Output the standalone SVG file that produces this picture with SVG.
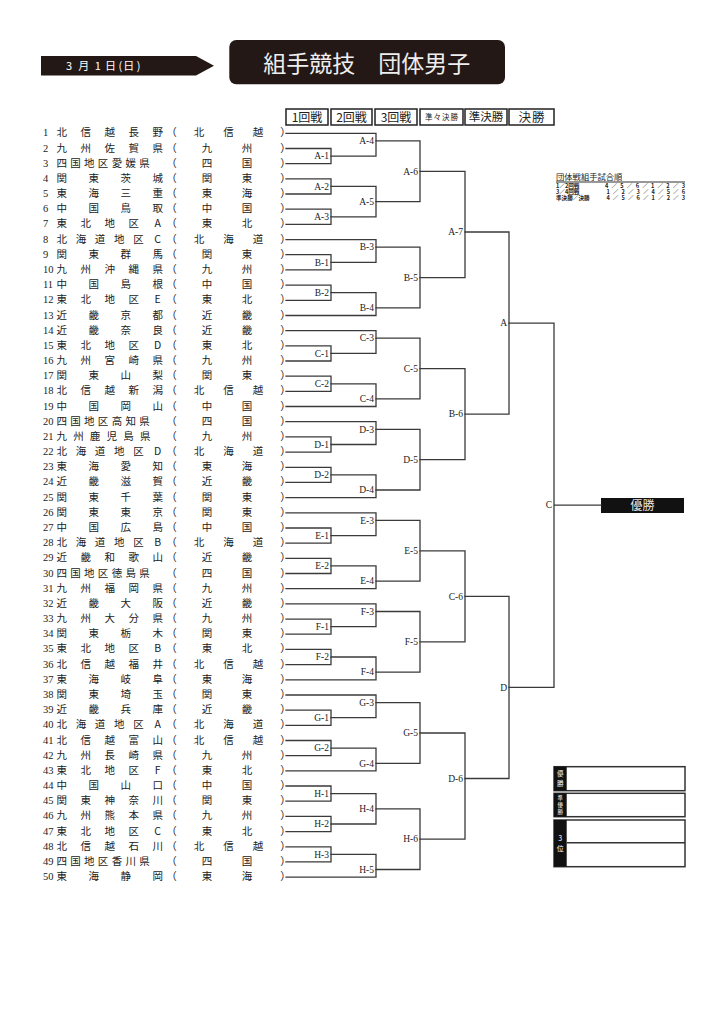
<svg xmlns="http://www.w3.org/2000/svg" width="724" height="1024" viewBox="0 0 724 1024">
<style>
.j{font-family:"Noto Sans CJK JP",sans-serif;font-size:10.5px;fill:#222;text-anchor:middle}
.n{font-family:"Liberation Serif",serif;font-size:10.5px;fill:#222}
.lb{font-family:"Liberation Serif",serif;font-size:9.5px;fill:#222;text-anchor:end}
.ln{fill:none;stroke:#3a3a3a;stroke-width:1.3;stroke-linecap:square}
.rb{fill:#fff;stroke:#222;stroke-width:1.5}
.rt{font-family:"Noto Sans CJK JP",sans-serif;fill:#222;text-anchor:middle}
.wt{font-family:"Noto Sans CJK JP",sans-serif;fill:#fff;text-anchor:middle}
.tb{font-family:"Noto Sans CJK JP",sans-serif;fill:#222;font-weight:700}
.sb{fill:#fff;stroke:#333;stroke-width:1.5}
</style>
<rect width="724" height="1024" fill="#fff"/>

<g id="date">
<polygon points="41,56 196,56 214,65.8 196,75.5 41,75.5" fill="#231815"/>
<text class="wt" style="font-size:11px" x="69 83.8 97.7 110.4 120.3 128.7 138.5" y="70">3月1日(日)</text>
</g>
<g id="title">
<rect x="229.3" y="40" width="275.7" height="44.3" rx="7" fill="#231815"/>
<text class="wt" style="font-size:23px;fill:#eee" x="366.7" y="71.5">組手競技　団体男子</text>
</g>

<g id="rounds">
<rect class="rb" x="286" y="109" width="42" height="16"/>
<text class="rt" style="font-size:12px" x="307" y="121.5">1回戦</text>
<rect class="rb" x="331" y="109" width="41" height="16"/>
<text class="rt" style="font-size:12px" x="351.5" y="121.5">2回戦</text>
<rect class="rb" x="375" y="109" width="42" height="16"/>
<text class="rt" style="font-size:12px" x="396" y="121.5">3回戦</text>
<rect class="rb" x="420" y="109" width="43" height="16"/>
<text class="rt" style="font-size:7.5px;letter-spacing:1px" x="442" y="120">準々決勝</text>
<rect class="rb" x="465" y="109" width="42" height="16"/>
<text class="rt" style="font-size:11.5px" x="486" y="121.3">準決勝</text>
<rect class="rb" x="509" y="109" width="45" height="16"/>
<text class="rt" style="font-size:12.5px;letter-spacing:1px" x="532" y="121.7">決勝</text>
</g>

<g id="order-table">
<text class="tb" style="font-size:8.3px;font-weight:400" x="556" y="180">団体戦組手試合順</text>
<line x1="556" y1="182" x2="685" y2="182" stroke="#333" stroke-width="1.2"/>
<text class="tb" style="font-size:5.6px"><tspan x="556" y="188">1／2回戦</tspan><tspan x="605" y="188" textLength="80" lengthAdjust="spacing">4／5／6／1／2／3</tspan><tspan x="556" y="194.2">3／4回戦</tspan><tspan x="606.5" y="194.2" textLength="78.5" lengthAdjust="spacing">1／2／3／4／5／6</tspan><tspan x="556" y="200.4">準決勝／決勝</tspan><tspan x="606.5" y="200.4" textLength="78.5" lengthAdjust="spacing">4／5／6／1／2／3</tspan></text>
</g>

<g id="champion">
<rect x="601" y="498" width="83" height="15" fill="#111"/>
<text class="wt" style="font-size:12px;fill:#e8e8e8" x="642.5" y="510">優勝</text>
</g>

<g id="standings">
<rect class="sb" x="554" y="766.7" width="131" height="24"/>
<rect x="554" y="766.7" width="12.7" height="24" fill="#111"/>
<text class="wt" style="font-size:6.5px" x="560.3 560.3" y="776 785.5">優勝</text>
<rect class="sb" x="554" y="793.3" width="131" height="23.4"/>
<rect x="554" y="793.3" width="12.7" height="23.4" fill="#111"/>
<text class="wt" style="font-size:5.5px" x="560.3 560.3 560.3" y="800.3 807 813.7">準優勝</text>
<rect class="sb" x="554" y="820" width="131" height="46.7"/>
<rect x="554" y="820" width="12.7" height="46.7" fill="#111"/>
<line x1="566.7" y1="842.7" x2="685" y2="842.7" stroke="#333" stroke-width="1.5"/>
<text class="wt" style="font-size:7px" x="560.3 560.3" y="840.5 851">3位</text>
</g>

<g id="teams">
<g id="t01"><text class="n" x="43" y="136.3">1</text><text class="j" x="61.7 85.7 109.7 133.7 157.7 171.5" y="136.3">北信越長野（</text><text class="j" x="199 228.5 258 285.5" y="136.3">北信越）</text></g>
<g id="t02"><text class="n" x="43" y="151.5">2</text><text class="j" x="61.7 85.7 109.7 133.7 157.7 171.5" y="151.5">九州佐賀県（</text><text class="j" x="207 247 285.5" y="151.5">九州）</text></g>
<g id="t03"><text class="n" x="43" y="166.7">3</text><text class="j" x="61.7 75.5 89.3 103.1 116.9 130.7 144.5 171.5" y="166.7">四国地区愛媛県（</text><text class="j" x="207 247 285.5" y="166.7">四国）</text></g>
<g id="t04"><text class="n" x="43" y="181.8">4</text><text class="j" x="61.7 93.7 125.7 157.7 171.5" y="181.8">関東茨城（</text><text class="j" x="207 247 285.5" y="181.8">関東）</text></g>
<g id="t05"><text class="n" x="43" y="197">5</text><text class="j" x="61.7 93.7 125.7 157.7 171.5" y="197">東海三重（</text><text class="j" x="207 247 285.5" y="197">東海）</text></g>
<g id="t06"><text class="n" x="43" y="212.2">6</text><text class="j" x="61.7 93.7 125.7 157.7 171.5" y="212.2">中国鳥取（</text><text class="j" x="207 247 285.5" y="212.2">中国）</text></g>
<g id="t07"><text class="n" x="43" y="227.4">7</text><text class="j" x="61.7 85.7 109.7 133.7 157.7 171.5" y="227.4">東北地区A（</text><text class="j" x="207 247 285.5" y="227.4">東北）</text></g>
<g id="t08"><text class="n" x="43" y="242.6">8</text><text class="j" x="61.7 80.9 100.1 119.3 138.5 157.7 171.5" y="242.6">北海道地区C（</text><text class="j" x="199 228.5 258 285.5" y="242.6">北海道）</text></g>
<g id="t09"><text class="n" x="43" y="257.7">9</text><text class="j" x="61.7 93.7 125.7 157.7 171.5" y="257.7">関東群馬（</text><text class="j" x="207 247 285.5" y="257.7">関東）</text></g>
<g id="t10"><text class="n" x="43" y="272.9">10</text><text class="j" x="61.7 85.7 109.7 133.7 157.7 171.5" y="272.9">九州沖縄県（</text><text class="j" x="207 247 285.5" y="272.9">九州）</text></g>
<g id="t11"><text class="n" x="43" y="288.1">11</text><text class="j" x="61.7 93.7 125.7 157.7 171.5" y="288.1">中国島根（</text><text class="j" x="207 247 285.5" y="288.1">中国）</text></g>
<g id="t12"><text class="n" x="43" y="303.3">12</text><text class="j" x="61.7 85.7 109.7 133.7 157.7 171.5" y="303.3">東北地区E（</text><text class="j" x="207 247 285.5" y="303.3">東北）</text></g>
<g id="t13"><text class="n" x="43" y="318.5">13</text><text class="j" x="61.7 93.7 125.7 157.7 171.5" y="318.5">近畿京都（</text><text class="j" x="207 247 285.5" y="318.5">近畿）</text></g>
<g id="t14"><text class="n" x="43" y="333.6">14</text><text class="j" x="61.7 93.7 125.7 157.7 171.5" y="333.6">近畿奈良（</text><text class="j" x="207 247 285.5" y="333.6">近畿）</text></g>
<g id="t15"><text class="n" x="43" y="348.8">15</text><text class="j" x="61.7 85.7 109.7 133.7 157.7 171.5" y="348.8">東北地区D（</text><text class="j" x="207 247 285.5" y="348.8">東北）</text></g>
<g id="t16"><text class="n" x="43" y="364">16</text><text class="j" x="61.7 85.7 109.7 133.7 157.7 171.5" y="364">九州宮崎県（</text><text class="j" x="207 247 285.5" y="364">九州）</text></g>
<g id="t17"><text class="n" x="43" y="379.2">17</text><text class="j" x="61.7 93.7 125.7 157.7 171.5" y="379.2">関東山梨（</text><text class="j" x="207 247 285.5" y="379.2">関東）</text></g>
<g id="t18"><text class="n" x="43" y="394.4">18</text><text class="j" x="61.7 85.7 109.7 133.7 157.7 171.5" y="394.4">北信越新潟（</text><text class="j" x="199 228.5 258 285.5" y="394.4">北信越）</text></g>
<g id="t19"><text class="n" x="43" y="409.5">19</text><text class="j" x="61.7 93.7 125.7 157.7 171.5" y="409.5">中国岡山（</text><text class="j" x="207 247 285.5" y="409.5">中国）</text></g>
<g id="t20"><text class="n" x="43" y="424.7">20</text><text class="j" x="61.7 75.5 89.3 103.1 116.9 130.7 144.5 171.5" y="424.7">四国地区高知県（</text><text class="j" x="207 247 285.5" y="424.7">四国）</text></g>
<g id="t21"><text class="n" x="43" y="439.9">21</text><text class="j" x="61.7 78.4 95.1 111.8 128.5 145.2 171.5" y="439.9">九州鹿児島県（</text><text class="j" x="207 247 285.5" y="439.9">九州）</text></g>
<g id="t22"><text class="n" x="43" y="455.1">22</text><text class="j" x="61.7 80.9 100.1 119.3 138.5 157.7 171.5" y="455.1">北海道地区D（</text><text class="j" x="199 228.5 258 285.5" y="455.1">北海道）</text></g>
<g id="t23"><text class="n" x="43" y="470.3">23</text><text class="j" x="61.7 93.7 125.7 157.7 171.5" y="470.3">東海愛知（</text><text class="j" x="207 247 285.5" y="470.3">東海）</text></g>
<g id="t24"><text class="n" x="43" y="485.4">24</text><text class="j" x="61.7 93.7 125.7 157.7 171.5" y="485.4">近畿滋賀（</text><text class="j" x="207 247 285.5" y="485.4">近畿）</text></g>
<g id="t25"><text class="n" x="43" y="500.6">25</text><text class="j" x="61.7 93.7 125.7 157.7 171.5" y="500.6">関東千葉（</text><text class="j" x="207 247 285.5" y="500.6">関東）</text></g>
<g id="t26"><text class="n" x="43" y="515.8">26</text><text class="j" x="61.7 93.7 125.7 157.7 171.5" y="515.8">関東東京（</text><text class="j" x="207 247 285.5" y="515.8">関東）</text></g>
<g id="t27"><text class="n" x="43" y="531">27</text><text class="j" x="61.7 93.7 125.7 157.7 171.5" y="531">中国広島（</text><text class="j" x="207 247 285.5" y="531">中国）</text></g>
<g id="t28"><text class="n" x="43" y="546.2">28</text><text class="j" x="61.7 80.9 100.1 119.3 138.5 157.7 171.5" y="546.2">北海道地区B（</text><text class="j" x="199 228.5 258 285.5" y="546.2">北海道）</text></g>
<g id="t29"><text class="n" x="43" y="561.3">29</text><text class="j" x="61.7 85.7 109.7 133.7 157.7 171.5" y="561.3">近畿和歌山（</text><text class="j" x="207 247 285.5" y="561.3">近畿）</text></g>
<g id="t30"><text class="n" x="43" y="576.5">30</text><text class="j" x="61.7 75.5 89.3 103.1 116.9 130.7 144.5 171.5" y="576.5">四国地区徳島県（</text><text class="j" x="207 247 285.5" y="576.5">四国）</text></g>
<g id="t31"><text class="n" x="43" y="591.7">31</text><text class="j" x="61.7 85.7 109.7 133.7 157.7 171.5" y="591.7">九州福岡県（</text><text class="j" x="207 247 285.5" y="591.7">九州）</text></g>
<g id="t32"><text class="n" x="43" y="606.9">32</text><text class="j" x="61.7 93.7 125.7 157.7 171.5" y="606.9">近畿大阪（</text><text class="j" x="207 247 285.5" y="606.9">近畿）</text></g>
<g id="t33"><text class="n" x="43" y="622.1">33</text><text class="j" x="61.7 85.7 109.7 133.7 157.7 171.5" y="622.1">九州大分県（</text><text class="j" x="207 247 285.5" y="622.1">九州）</text></g>
<g id="t34"><text class="n" x="43" y="637.2">34</text><text class="j" x="61.7 93.7 125.7 157.7 171.5" y="637.2">関東栃木（</text><text class="j" x="207 247 285.5" y="637.2">関東）</text></g>
<g id="t35"><text class="n" x="43" y="652.4">35</text><text class="j" x="61.7 85.7 109.7 133.7 157.7 171.5" y="652.4">東北地区B（</text><text class="j" x="207 247 285.5" y="652.4">東北）</text></g>
<g id="t36"><text class="n" x="43" y="667.6">36</text><text class="j" x="61.7 85.7 109.7 133.7 157.7 171.5" y="667.6">北信越福井（</text><text class="j" x="199 228.5 258 285.5" y="667.6">北信越）</text></g>
<g id="t37"><text class="n" x="43" y="682.8">37</text><text class="j" x="61.7 93.7 125.7 157.7 171.5" y="682.8">東海岐阜（</text><text class="j" x="207 247 285.5" y="682.8">東海）</text></g>
<g id="t38"><text class="n" x="43" y="698">38</text><text class="j" x="61.7 93.7 125.7 157.7 171.5" y="698">関東埼玉（</text><text class="j" x="207 247 285.5" y="698">関東）</text></g>
<g id="t39"><text class="n" x="43" y="713.1">39</text><text class="j" x="61.7 93.7 125.7 157.7 171.5" y="713.1">近畿兵庫（</text><text class="j" x="207 247 285.5" y="713.1">近畿）</text></g>
<g id="t40"><text class="n" x="43" y="728.3">40</text><text class="j" x="61.7 80.9 100.1 119.3 138.5 157.7 171.5" y="728.3">北海道地区A（</text><text class="j" x="199 228.5 258 285.5" y="728.3">北海道）</text></g>
<g id="t41"><text class="n" x="43" y="743.5">41</text><text class="j" x="61.7 85.7 109.7 133.7 157.7 171.5" y="743.5">北信越富山（</text><text class="j" x="199 228.5 258 285.5" y="743.5">北信越）</text></g>
<g id="t42"><text class="n" x="43" y="758.7">42</text><text class="j" x="61.7 85.7 109.7 133.7 157.7 171.5" y="758.7">九州長崎県（</text><text class="j" x="207 247 285.5" y="758.7">九州）</text></g>
<g id="t43"><text class="n" x="43" y="773.9">43</text><text class="j" x="61.7 85.7 109.7 133.7 157.7 171.5" y="773.9">東北地区F（</text><text class="j" x="207 247 285.5" y="773.9">東北）</text></g>
<g id="t44"><text class="n" x="43" y="789">44</text><text class="j" x="61.7 93.7 125.7 157.7 171.5" y="789">中国山口（</text><text class="j" x="207 247 285.5" y="789">中国）</text></g>
<g id="t45"><text class="n" x="43" y="804.2">45</text><text class="j" x="61.7 85.7 109.7 133.7 157.7 171.5" y="804.2">関東神奈川（</text><text class="j" x="207 247 285.5" y="804.2">関東）</text></g>
<g id="t46"><text class="n" x="43" y="819.4">46</text><text class="j" x="61.7 85.7 109.7 133.7 157.7 171.5" y="819.4">九州熊本県（</text><text class="j" x="207 247 285.5" y="819.4">九州）</text></g>
<g id="t47"><text class="n" x="43" y="834.6">47</text><text class="j" x="61.7 85.7 109.7 133.7 157.7 171.5" y="834.6">東北地区C（</text><text class="j" x="207 247 285.5" y="834.6">東北）</text></g>
<g id="t48"><text class="n" x="43" y="849.8">48</text><text class="j" x="61.7 85.7 109.7 133.7 157.7 171.5" y="849.8">北信越石川（</text><text class="j" x="199 228.5 258 285.5" y="849.8">北信越）</text></g>
<g id="t49"><text class="n" x="43" y="864.9">49</text><text class="j" x="61.7 75.5 89.3 103.1 116.9 130.7 144.5 171.5" y="864.9">四国地区香川県（</text><text class="j" x="207 247 285.5" y="864.9">四国）</text></g>
<g id="t50"><text class="n" x="43" y="880.1">50</text><text class="j" x="61.7 93.7 125.7 157.7 171.5" y="880.1">東海静岡（</text><text class="j" x="207 247 285.5" y="880.1">東海）</text></g>
</g>

<g id="connectors" class="ln">
<path d="M286 148.5H331V163.7H286M286 178.8H331V194H286M286 209.2H331V224.4H286M286 254.7H331V269.9H286M286 285.1H331V300.3H286M286 345.8H331V361H286M286 376.2H331V391.4H286M286 436.9H331V452.1H286M286 467.3H331V482.4H286M286 528H331V543.2H286M286 558.3H331V573.5H286M286 619.1H331V634.2H286M286 649.4H331V664.6H286M286 710.1H331V725.3H286M286 740.5H331V755.7H286M286 786H331V801.2H286M286 816.4H331V831.6H286M286 846.8H331V861.9H286"/>
<path d="M286 133.3H376V156.1H331M331 186.4H376V216.8H331M286 239.6H376V262.3H331M331 292.7H376V315.5H286M286 330.6H376V353.4H331M331 383.8H376V406.5H286M286 421.7H376V444.5H331M331 474.9H376V497.6H286M286 512.8H376V535.6H331M331 565.9H376V588.7H286M286 603.9H376V626.7H331M331 657H376V679.8H286M286 695H376V717.7H331M331 748.1H376V770.9H286M331 793.6H376V824H331M331 854.4H376V877.1H286"/>
<path d="M376 140.9H420V201.6H376M376 247.2H420V307.9H376M376 338.2H420V398.9H376M376 429.3H420V490H376M376 520.4H420V581.1H376M376 611.5H420V672.2H376M376 702.6H420V763.3H376M376 808.8H420V869.5H376"/>
<path d="M420 171.3H465V277.6H420M420 368.6H465V459.7H420M420 550.8H465V641.9H420M420 733H465V839.2H420"/>
<path d="M465 232H509V414.1H465M465 596.3H509V778.5H465"/>
<path d="M509 323.1H554V687.4H509M554 505.2H601"/>
</g>

<g id="match-labels">
<text class="lb" x="329" y="159.3">A-1</text>
<text class="lb" x="329" y="189.6">A-2</text>
<text class="lb" x="329" y="220">A-3</text>
<text class="lb" x="329" y="265.5">B-1</text>
<text class="lb" x="329" y="295.9">B-2</text>
<text class="lb" x="329" y="356.6">C-1</text>
<text class="lb" x="329" y="387">C-2</text>
<text class="lb" x="329" y="447.7">D-1</text>
<text class="lb" x="329" y="478.1">D-2</text>
<text class="lb" x="329" y="538.8">E-1</text>
<text class="lb" x="329" y="569.1">E-2</text>
<text class="lb" x="329" y="629.9">F-1</text>
<text class="lb" x="329" y="660.2">F-2</text>
<text class="lb" x="329" y="720.9">G-1</text>
<text class="lb" x="329" y="751.3">G-2</text>
<text class="lb" x="329" y="796.8">H-1</text>
<text class="lb" x="329" y="827.2">H-2</text>
<text class="lb" x="329" y="857.6">H-3</text>
<text class="lb" x="374" y="144.1">A-4</text>
<text class="lb" x="374" y="204.8">A-5</text>
<text class="lb" x="374" y="250.4">B-3</text>
<text class="lb" x="374" y="311.1">B-4</text>
<text class="lb" x="374" y="341.4">C-3</text>
<text class="lb" x="374" y="402.1">C-4</text>
<text class="lb" x="374" y="432.5">D-3</text>
<text class="lb" x="374" y="493.2">D-4</text>
<text class="lb" x="374" y="523.6">E-3</text>
<text class="lb" x="374" y="584.3">E-4</text>
<text class="lb" x="374" y="614.7">F-3</text>
<text class="lb" x="374" y="675.4">F-4</text>
<text class="lb" x="374" y="705.8">G-3</text>
<text class="lb" x="374" y="766.5">G-4</text>
<text class="lb" x="374" y="812">H-4</text>
<text class="lb" x="374" y="872.7">H-5</text>
<text class="lb" x="418" y="174.5">A-6</text>
<text class="lb" x="418" y="280.8">B-5</text>
<text class="lb" x="418" y="371.8">C-5</text>
<text class="lb" x="418" y="462.9">D-5</text>
<text class="lb" x="418" y="554">E-5</text>
<text class="lb" x="418" y="645.1">F-5</text>
<text class="lb" x="418" y="736.2">G-5</text>
<text class="lb" x="418" y="842.4">H-6</text>
<text class="lb" x="463" y="235.2">A-7</text>
<text class="lb" x="463" y="417.3">B-6</text>
<text class="lb" x="463" y="599.5">C-6</text>
<text class="lb" x="463" y="781.7">D-6</text>
<text class="lb" x="507" y="326.3">A</text>
<text class="lb" x="507" y="690.6">D</text>
<text class="lb" x="552" y="508.4">C</text>
</g>
</svg>
